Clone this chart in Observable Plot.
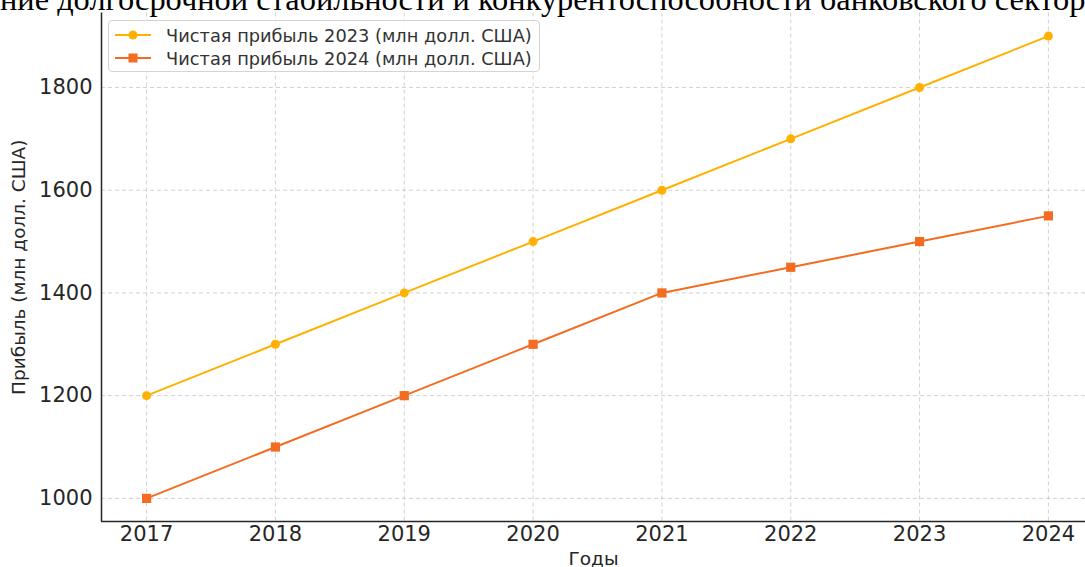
<!DOCTYPE html>
<html>
<head>
<meta charset="utf-8">
<script src="https://cdn.jsdelivr.net/npm/d3@7"></script>
<script src="https://cdn.jsdelivr.net/npm/@observablehq/plot@0.6"></script>
<style>
  html, body { margin: 0; padding: 0; background: #fff; overflow: hidden; }
  #wrap { position: relative; width: 1085px; height: 567px; overflow: hidden; }
  #title { position: absolute; left: 0px; top: -17px; font-family: "Liberation Serif", serif; font-size: 32.4px; line-height: 32.4px; white-space: nowrap; color: #000; z-index: 3; }
  #legend { position: absolute; left: 108px; top: 20px; width: 432px; height: 52px; border: 1px solid #d4d4d4; border-radius: 4px; background: rgba(255,255,255,0.85); font-family: "DejaVu Sans", sans-serif; font-size: 17.8px; color: #333; z-index: 2; box-sizing: border-box; }
  .row { position: absolute; left: 6px; height: 22px; display: flex; align-items: center; white-space: nowrap; }
  .row svg { margin-right: 15px; }
  #chart svg text { font-family: "DejaVu Sans", sans-serif; }
</style>
</head>
<body>
<div id="wrap">
  <div id="title">ние долгосрочной стабильности и конкурентоспособности банковского сектора</div>
  <div id="legend"></div>
  <div id="chart"></div>
</div>
<script>
const years = [2017, 2018, 2019, 2020, 2021, 2022, 2023, 2024];
const profit2023 = [1200, 1300, 1400, 1500, 1600, 1700, 1800, 1900];
const profit2024 = [1000, 1100, 1200, 1300, 1400, 1450, 1500, 1550];
const seriesNames = ["Чистая прибыль 2023 (млн долл. США)", "Чистая прибыль 2024 (млн долл. США)"];
const seriesColors = ["#FFB000", "#F36C21"];
const yTicks = [1000, 1200, 1400, 1600, 1800];

const d2023 = years.map((y, i) => ({year: y, value: profit2023[i]}));
const d2024 = years.map((y, i) => ({year: y, value: profit2024[i]}));

const chart = Plot.plot({
  width: 1085,
  height: 567,
  marginLeft: 101,
  marginTop: 12.5,
  marginBottom: 46,
  marginRight: 0,
  style: {fontFamily: "DejaVu Sans, sans-serif", fontSize: "21px", color: "#262626", background: "transparent"},
  x: {domain: [2016.65, 2024.35], range: [101, 1093]},
  y: {domain: [955, 1945], range: [521, 12.5]},
  marks: [
    Plot.gridX(years, {stroke: "#b8b8b8", strokeOpacity: 0.7, strokeDasharray: "4,3", strokeWidth: 0.9}),
    Plot.gridY(yTicks, {stroke: "#b8b8b8", strokeOpacity: 0.7, strokeDasharray: "4,3", strokeWidth: 0.9}),
    Plot.axisX(years, {tickSize: 0, tickPadding: 5, tickFormat: d => String(d), fontSize: 21, label: "Годы", labelAnchor: "center", labelArrow: "none", labelOffset: 43}),
    Plot.axisY(yTicks, {tickSize: 0, tickPadding: 9, tickFormat: d => String(d), fontSize: 21, label: "Прибыль (млн долл. США)", labelAnchor: "center", labelArrow: "none", labelOffset: 90}),
    Plot.ruleY([955], {stroke: "#262626", strokeWidth: 1.5}),
    Plot.ruleX([2016.65], {stroke: "#262626", strokeWidth: 1.5}),
    Plot.line(d2023, {x: "year", y: "value", stroke: seriesColors[0], strokeWidth: 2}),
    Plot.dot(d2023, {x: "year", y: "value", fill: seriesColors[0], r: 4.5, symbol: "circle"}),
    Plot.line(d2024, {x: "year", y: "value", stroke: seriesColors[1], strokeWidth: 2}),
    Plot.dot(d2024, {x: "year", y: "value", fill: seriesColors[1], r: 5.2, symbol: "square"})
  ]
});
chart.querySelectorAll("[aria-label='x-axis label'] text, [aria-label='y-axis label'] text").forEach(t => t.setAttribute("font-size", "18.5"));
chart.querySelectorAll("[aria-label='x-axis label'], [aria-label='y-axis label']").forEach(g => g.setAttribute("font-size", "18.5"));
document.getElementById("chart").appendChild(chart);

const legend = document.getElementById("legend");
seriesNames.forEach((name, i) => {
  const row = document.createElement("div");
  row.className = "row";
  row.style.top = (i === 0 ? 3 : 26) + "px";
  const sym = i === 0
    ? `<circle cx="18" cy="11" r="4.5" fill="${seriesColors[i]}"/>`
    : `<rect x="13.5" y="6.5" width="9" height="9" fill="${seriesColors[i]}"/>`;
  row.innerHTML = `<svg width="36" height="22"><line x1="0" x2="36" y1="11" y2="11" stroke="${seriesColors[i]}" stroke-width="2"/>${sym}</svg><span>${name}</span>`;
  legend.appendChild(row);
});
</script>
</body>
</html>
